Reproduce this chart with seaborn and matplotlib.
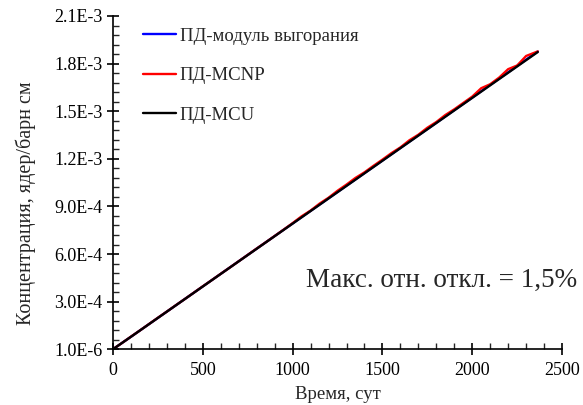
import pandas as pd
import numpy as np
import seaborn as sns
import matplotlib.pyplot as plt
from matplotlib.ticker import MultipleLocator, FixedLocator

# Время, сут
t_coarse = [0, 100, 200, 300, 400, 500, 600, 700, 800, 900, 1000, 1100, 1200,
            1300, 1400, 1500, 1600, 1700, 1800, 1900, 2000, 2100, 2200, 2300, 2365]
# Концентрация, 1E-4 ядер/барн см
mcu = [0.01, 0.792, 1.584, 2.376, 3.168, 3.96, 4.752, 5.544, 6.336, 7.128, 7.92,
       8.712, 9.504, 10.296, 11.088, 11.88, 12.672, 13.464, 14.256, 15.048,
       15.84, 16.632, 17.424, 18.216, 18.73]
burnup = [0.01, 0.793, 1.586, 2.379, 3.172, 3.965, 4.758, 5.551, 6.344, 7.137, 7.93,
          8.723, 9.516, 10.309, 11.102, 11.895, 12.688, 13.48, 14.27, 15.07,
          15.86, 16.66, 17.45, 18.25, 18.76]

t_fine = [0, 50, 100, 150, 200, 250, 300, 350, 400, 450, 500, 550, 600, 650, 700,
          750, 800, 850, 900, 950, 1000, 1050, 1100, 1150, 1200, 1250, 1300, 1350,
          1400, 1450, 1500, 1550, 1600, 1650, 1700, 1750, 1800, 1850, 1900, 1950,
          2000, 2050, 2100, 2150, 2200, 2250, 2300, 2365]
mcnp = [0.01, 0.40, 0.80, 1.19, 1.59, 1.99, 2.38, 2.78, 3.17, 3.57, 3.97, 4.36,
        4.76, 5.15, 5.55, 5.95, 6.35, 6.74, 7.14, 7.54, 7.95, 8.38, 8.74, 9.18,
        9.55, 9.99, 10.38, 10.80, 11.15, 11.56, 11.95, 12.36, 12.72, 13.17, 13.52,
        13.96, 14.32, 14.76, 15.12, 15.52, 15.92, 16.45, 16.70, 17.12, 17.65,
        17.88, 18.48, 18.77]

df_coarse = pd.DataFrame({'t': t_coarse, 'mcu': np.array(mcu) * 1e-4,
                          'burnup': np.array(burnup) * 1e-4})
df_fine = pd.DataFrame({'t': t_fine, 'mcnp': np.array(mcnp) * 1e-4})

sns.set_style('white')
plt.rcParams['font.family'] = ['Liberation Serif', 'DejaVu Serif']

fig = plt.figure(figsize=(5.83, 4.05), dpi=100)
ax = fig.add_axes([0.194, 0.138, 0.77, 0.8225])

sns.lineplot(ax=ax, data=df_coarse, x='t', y='burnup', color='#0000ff', lw=1.7,
             label='ПД-модуль выгорания')
sns.lineplot(ax=ax, data=df_fine, x='t', y='mcnp', color='#ff0000', lw=1.7,
             label='ПД-MCNP')
sns.lineplot(ax=ax, data=df_coarse, x='t', y='mcu', color='#000000', lw=1.7,
             label='ПД-MCU')

ax.set_xlim(0, 2500)
ax.set_ylim(1e-6, 2.1e-3)
ax.xaxis.set_major_locator(MultipleLocator(500))
ax.xaxis.set_minor_locator(MultipleLocator(100))
yt = [1e-6, 3e-4, 6e-4, 9e-4, 1.2e-3, 1.5e-3, 1.8e-3, 2.1e-3]
ax.yaxis.set_major_locator(FixedLocator(yt))
ax.set_yticklabels(['1.0E-6', '3.0E-4', '6.0E-4', '9.0E-4', '1.2E-3', '1.5E-3',
                    '1.8E-3', '2.1E-3'])
ax.yaxis.set_minor_locator(FixedLocator(np.arange(6e-5, 2.1e-3, 6e-5)))
ax.tick_params(which='major', direction='inout', length=8, width=1.2,
               labelsize=13, colors='black', left=True, bottom=True)
ax.tick_params(which='minor', direction='in', length=4, width=1.0,
               left=True, bottom=True)
ax.tick_params(axis='x', pad=5)

for s in ['top', 'right']:
    ax.spines[s].set_visible(False)
for s in ['left', 'bottom']:
    ax.spines[s].set_color('black')
    ax.spines[s].set_linewidth(1.2)

ax.set_xlabel('Время, сут', fontsize=13.5, labelpad=5)
ax.set_ylabel('Концентрация, ядер/барн см', fontsize=14.5)
ax.yaxis.set_label_coords(-0.171, 0.438)

ax.legend(loc='upper left', bbox_to_anchor=(0.029, 1.016), frameon=False,
          fontsize=13.5, handlelength=1.75, handletextpad=0.2, labelspacing=1.2)

ax.text(1.033, 0.207, 'Макс. отн. откл. = 1,5%', transform=ax.transAxes,
        ha='right', va='center', fontsize=19.5)

plt.savefig('out.png', dpi=100)
